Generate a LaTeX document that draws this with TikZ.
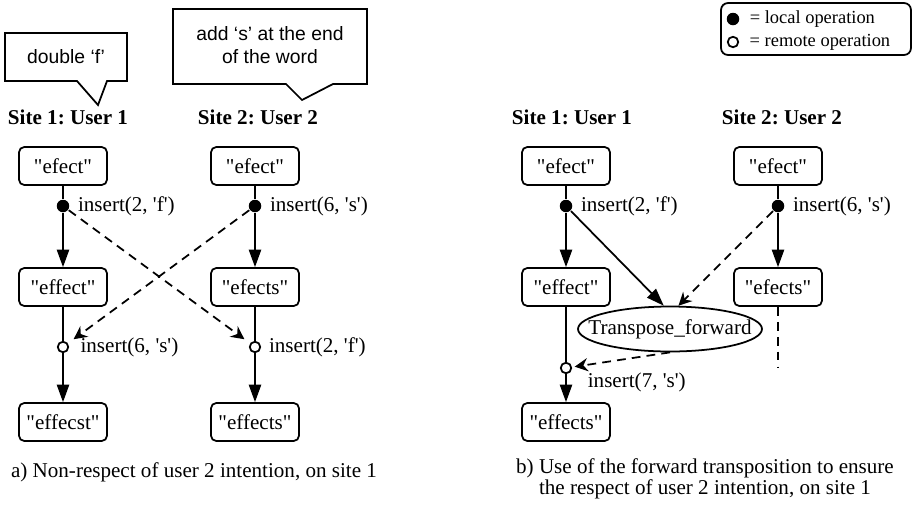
\documentclass[tikz,border=0pt]{standalone}
\usepackage{fontspec}
\setmainfont{Liberation Serif}[Ligatures=TeXOff]
\setsansfont{Liberation Sans}
\usetikzlibrary{arrows.meta,positioning,shapes.geometric}
\frenchspacing

\begin{document}
\begin{tikzpicture}
  [x=0.02cm,y=-0.02cm,line width=1pt,
   font=\fontsize{12}{14}\selectfont,
   state/.style={draw,rounded corners=3pt,minimum width=1.76cm,minimum height=0.76cm,inner sep=0pt},
   loc/.style={circle,fill,inner sep=0pt,minimum size=0.25cm},
   rem/.style={circle,draw,fill=white,inner sep=0pt,minimum size=0.21cm},
   opl/.style={inner sep=0pt,anchor=west},
   site/.style={font=\fontsize{12}{14}\selectfont\bfseries},
   note/.style={font=\sffamily\fontsize{11}{13.5}\selectfont,align=center},
   go/.style={-{Triangle[length=10pt,width=7pt]}},
   msg/.style={dash pattern=on 5pt off 3.5pt,-{Stealth[length=7.5pt,width=7.5pt,inset=2.5pt]}}]
  \useasboundingbox (0,0) rectangle (913,508);

  % a) callouts
  \draw (5,33) -- (127,33) -- (127,81) -- (107,81) -- (98,105) -- (77,81) -- (5,81) -- cycle;
  \node[note] (c1) at (66,57) {double `f'};
  \draw (173,9) -- (367,9) -- (367,84) -- (333,84) -- (302,100) -- (286,84) -- (173,84) -- cycle;
  \node[note] (c2) at (270,45) {add `s' at the end\\of the word};

  % a) non-respect of the intention
  \node[site] (a1) at (68,117) {Site 1: User 1};
  \node[site] (a2) at (258,117) {Site 2: User 2};

  \node[state] (a1s0) at (63,166) {"efect"};
  \node[loc] (a1l) at (63,206) {};
  \node[state] (a1s1) at (63,287) {"effect"};
  \node[rem] (a1r) at (63,347) {};
  \node[state] (a1s2) at (63,422) {"effecst"};

  \node[state] (a2s0) at (255,166) {"efect"};
  \node[loc] (a2l) at (255,206) {};
  \node[state] (a2s1) at (255,287) {"efects"};
  \node[rem] (a2r) at (255,347) {};
  \node[state] (a2s2) at (255,422) {"effects"};

  \node[opl,right=4pt of a1l] (a1lt) {insert(2, 'f')};
  \node[opl,right=6pt of a1r] (a1rt) {insert(6, 's')};
  \node[opl,right=4pt of a2l] (a2lt) {insert(6, 's')};
  \node[opl,right=4pt of a2r] (a2rt) {insert(2, 'f')};

  \foreach \from/\to in {a1s0/a1l,a1s1/a1r,a2s0/a2l,a2s1/a2r}
    \draw (\from) -- (\to);
  \foreach \from/\to in {a1l/a1s1,a1r/a1s2,a2l/a2s1,a2r/a2s2}
    \draw[go] (\from) -- (\to);
  \draw[msg,shorten >=4pt] (a1l) -- (a2r);
  \draw[msg,shorten >=4pt] (a2l) -- (a1r);

  \node (capa) at (194,472) {a) Non-respect of user 2 intention, on site 1};

  % legend
  \node[draw,rounded corners=4pt,minimum width=3.8cm,minimum height=1.04cm,inner sep=0pt] (key) at (816,29) {};
  \node[loc] (keyl) at (733,19) {};
  \node[rem] (keyr) at (733,42) {};
  \node[opl,font=\fontsize{10.5}{12}\selectfont,right=5pt of keyl] (keylt) {= local operation};
  \node[opl,font=\fontsize{10.5}{12}\selectfont,right=5.5pt of keyr] (keyrt) {= remote operation};

  % b) forward transposition
  \node[site] (b1) at (572,117) {Site 1: User 1};
  \node[site] (b2) at (782,117) {Site 2: User 2};

  \node[state] (b1s0) at (566,166) {"efect"};
  \node[loc] (b1l) at (566,206) {};
  \node[state] (b1s1) at (566,287) {"effect"};
  \node[rem] (b1r) at (566,368) {};
  \node[state] (b1s2) at (566,422) {"effects"};

  \node[state] (b2s0) at (778,166) {"efect"};
  \node[loc] (b2l) at (778,206) {};
  \node[state] (b2s1) at (778,287) {"efects"};
  \coordinate (b2end) at (778,367);

  \node[draw,ellipse,minimum width=3.68cm,minimum height=0.9cm,inner sep=0pt] (tf) at (670,329)
    {\makebox[0pt]{Transpose\_forward}};

  \node[opl,right=4pt of b1l] (b1lt) {insert(2, 'f')};
  \node[opl,right=4pt of b2l] (b2lt) {insert(6, 's')};
  \node[opl] (b1rt) at (587,382) {insert(7, 's')};

  \foreach \from/\to in {b1s0/b1l,b1s1/b1r,b2s0/b2l}
    \draw (\from) -- (\to);
  \foreach \from/\to in {b1l/b1s1,b1r/b1s2,b2l/b2s1,b1l/tf.105}
    \draw[go] (\from) -- (\to);
  \draw[msg] (b2l) -- (tf.70);
  \draw[msg,shorten >=1.5pt] (tf.south) -- (b1r);
  \draw[dash pattern=on 5pt off 3.5pt] (b2s1) -- (b2end);

  \node[align=center,font=\fontsize{12}{11}\selectfont] (capb) at (705,479)
    {\lineskiplimit=-20pt b) Use of the forward transposition to ensure\\the respect of user 2 intention, on site 1};
\end{tikzpicture}
\end{document}
